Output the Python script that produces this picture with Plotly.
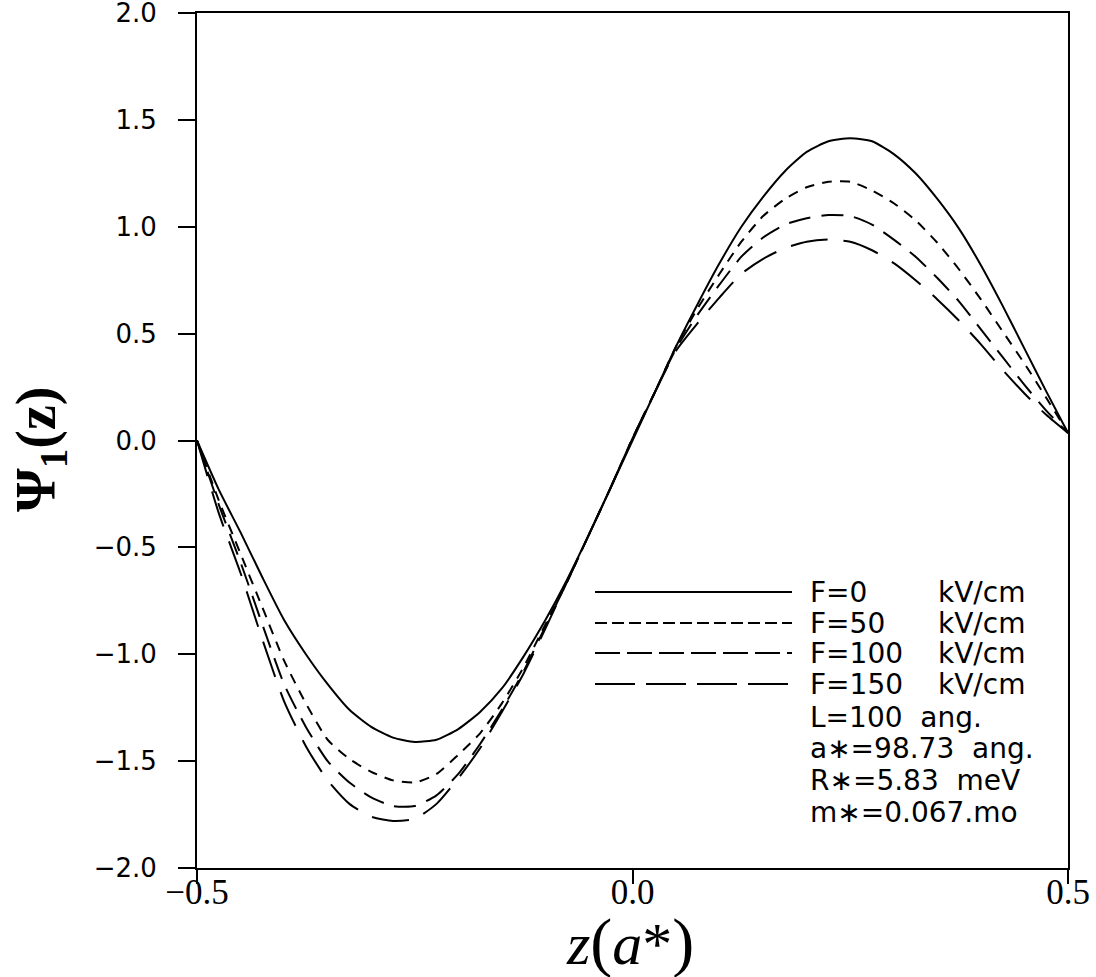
import plotly.graph_objects as go

# ---- data ----
z = [-0.5, -0.475, -0.45, -0.425, -0.4, -0.375, -0.35, -0.325, -0.3, -0.275,
     -0.25, -0.225, -0.2, -0.175, -0.15, -0.125, -0.1, -0.075, -0.05, -0.025,
     0.0, 0.025, 0.05, 0.075, 0.1, 0.125, 0.15, 0.175, 0.2, 0.225,
     0.25, 0.275, 0.3, 0.325, 0.35, 0.375, 0.4, 0.425, 0.45, 0.475, 0.5]

psi_F0 = [0.0, -0.23, -0.43, -0.64, -0.84, -1.00, -1.14, -1.26, -1.34, -1.39,
          -1.41, -1.40, -1.35, -1.27, -1.16, -1.01, -0.84, -0.65, -0.44, -0.22,
          0.0, 0.22, 0.44, 0.64, 0.83, 1.00, 1.14, 1.26, 1.35, 1.40,
          1.414, 1.40, 1.34, 1.25, 1.13, 0.99, 0.82, 0.63, 0.43, 0.23, 0.035]

psi_F50 = [0.0, -0.28, -0.53, -0.78, -1.03, -1.23, -1.40, -1.49, -1.55, -1.59,
           -1.60, -1.56, -1.47, -1.37, -1.23, -1.06, -0.86, -0.66, -0.44, -0.22,
           0.01, 0.22, 0.44, 0.62, 0.78, 0.93, 1.05, 1.13, 1.185, 1.21,
           1.21, 1.17, 1.11, 1.03, 0.925, 0.80, 0.66, 0.51, 0.36, 0.20, 0.035]

psi_F100 = [0.0, -0.30, -0.57, -0.86, -1.14, -1.34, -1.50, -1.60, -1.67, -1.71,
            -1.71, -1.66, -1.56, -1.42, -1.26, -1.08, -0.87, -0.66, -0.44, -0.22,
            0.01, 0.22, 0.43, 0.59, 0.73, 0.86, 0.95, 1.01, 1.04, 1.055,
            1.05, 1.01, 0.94, 0.86, 0.76, 0.65, 0.52, 0.39, 0.26, 0.14, 0.035]

psi_F150 = [0.0, -0.34, -0.62, -0.93, -1.22, -1.43, -1.59, -1.70, -1.76, -1.78,
            -1.77, -1.70, -1.58, -1.44, -1.27, -1.09, -0.88, -0.66, -0.44, -0.22,
            0.01, 0.22, 0.42, 0.55, 0.67, 0.78, 0.85, 0.90, 0.93, 0.94,
            0.93, 0.89, 0.83, 0.75, 0.66, 0.56, 0.45, 0.33, 0.22, 0.12, 0.035]

series_names = ["F=0", "F=50", "F=100", "F=150"]
series_values = [psi_F0, psi_F50, psi_F100, psi_F150]

y_ticks = [-2.0, -1.5, -1.0, -0.5, 0.0, 0.5, 1.0, 1.5, 2.0]
y_ticklabels = ["\u22122.0", "\u22121.5", "\u22121.0", "\u22120.5", "0.0", "0.5", "1.0", "1.5", "2.0"]
x_ticks = [-0.5, 0.0, 0.5]
x_ticklabels = ["\u22120.5", "0.0", "0.5"]

legend_units = ["kV/cm", "kV/cm", "kV/cm", "kV/cm"]
info_lines = ["L=100  ang.", "a\u2217=98.73  ang.", "R\u2217=5.83  meV", "m\u2217=0.067.mo"]

# ---- styles ----
curve_dash = ["solid", "10px,8px", "22px,11px", "37px,16px"]
legend_dash = ["solid", "12px,5px", "25px,7px", "40px,11px"]

fig = go.Figure()
for name, vals, dash in zip(series_names, series_values, curve_dash):
    fig.add_trace(go.Scatter(x=z, y=vals, mode="lines", name=name,
                             line=dict(color="black", width=2, dash=dash, shape="spline", smoothing=0.6),
                             showlegend=False, hoverinfo="skip"))

# page coordinates (body margin removed in the page, see post_script)
W, H = 1096, 977
PL, PR, PT, PB = 197, 1068, 13, 868          # plot box in page pixels
L, T, R, B = PL, PT, W - PR, H - PB
pw, ph = PR - PL, PB - PT


def px(xp):
    return (xp - PL) / pw


def py(yp):
    return 1 - (yp - PT) / ph


row_y = [592, 623, 653, 684, 717, 748, 780, 812]
font_txt = dict(family="DejaVu Sans", size=28, color="black")
for i in range(4):
    fig.add_shape(type="line", xref="paper", yref="paper",
                  x0=px(595), x1=px(792), y0=py(row_y[i]), y1=py(row_y[i]),
                  line=dict(color="black", width=2, dash=legend_dash[i]))
    fig.add_annotation(xref="paper", yref="paper", x=px(808), y=py(row_y[i]),
                       text=series_names[i], showarrow=False, xanchor="left", yanchor="middle",
                       font=font_txt)
    fig.add_annotation(xref="paper", yref="paper", x=px(936), y=py(row_y[i]),
                       text=legend_units[i], showarrow=False, xanchor="left", yanchor="middle",
                       font=font_txt)
for j, t in enumerate(info_lines):
    fig.add_annotation(xref="paper", yref="paper", x=px(808), y=py(row_y[4 + j]),
                       text=t, showarrow=False, xanchor="left", yanchor="middle",
                       font=font_txt)

# axis titles
fig.add_annotation(xref="paper", yref="paper", x=px(630), y=py(942),
                   text="<i>z</i><span style='font-size:66px'>(</span><i>a</i>*<span style='font-size:66px'>)</span>",
                   showarrow=False, xanchor="center", yanchor="middle",
                   font=dict(family="Liberation Serif", size=60, color="black"))
fig.add_annotation(xref="paper", yref="paper", x=px(40), y=py(450),
                   text="<b>\u03a8<sub>1</sub>(z)</b>", showarrow=False, textangle=-90,
                   xanchor="center", yanchor="middle",
                   font=dict(family="Liberation Serif", size=56, color="black"))

fig.update_layout(
    width=W, height=H, autosize=False,
    margin=dict(l=L, r=R, t=T, b=B, autoexpand=False),
    paper_bgcolor="white", plot_bgcolor="white",
    hovermode=False,
    xaxis=dict(range=[-0.5, 0.5], tickvals=x_ticks, ticktext=x_ticklabels, automargin=False,
               showgrid=False, zeroline=False, showline=True, mirror=True,
               linecolor="black", linewidth=2, ticks="outside", ticklen=14, tickwidth=2,
               tickcolor="black", ticklabelstandoff=-22, ticklabeloverflow="allow",
               tickfont=dict(family="Liberation Serif", size=35, color="black")),
    yaxis=dict(range=[-2.0, 2.0], tickvals=y_ticks, ticktext=y_ticklabels, automargin=False,
               showgrid=False, zeroline=False, showline=True, mirror=True,
               linecolor="black", linewidth=2, ticks="outside", ticklen=17, tickwidth=2,
               tickcolor="black", ticklabelstandoff=16, ticklabeloverflow="allow",
               tickfont=dict(family="DejaVu Sans", size=26, color="black")),
)

fig.write_html("out.html", config={"displayModeBar": False},
               post_script="document.body.style.margin='0px';document.body.style.overflow='hidden';")
